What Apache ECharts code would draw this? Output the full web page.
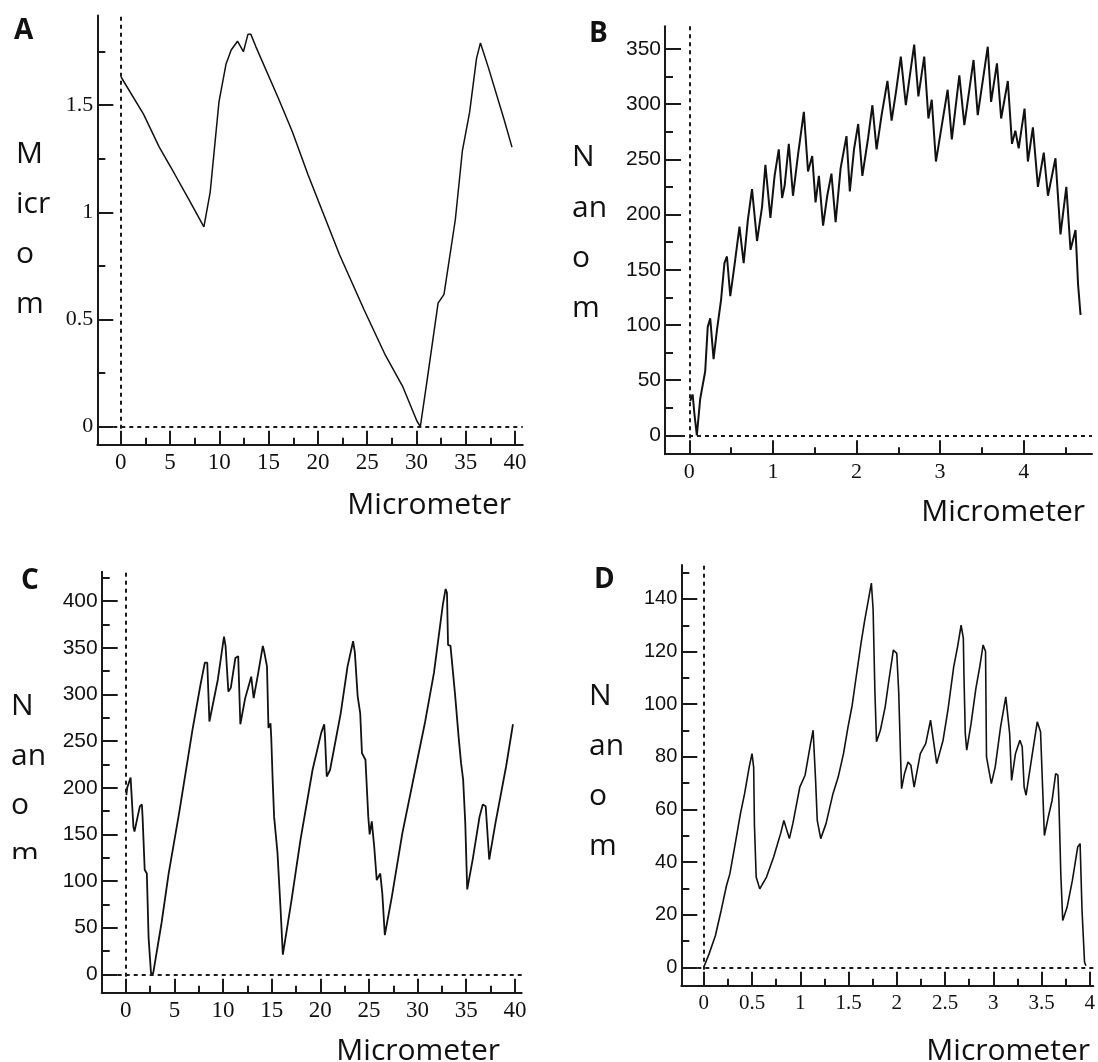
<!DOCTYPE html>
<html>
<head>
<meta charset="utf-8">
<script src="https://cdn.jsdelivr.net/npm/echarts@6/dist/echarts.min.js"></script>
<style>
html,body{margin:0;padding:0;background:#fff}
#main{width:1098px;height:1062px}
</style>
</head>
<body>
<div id="main"></div>
<script>
// panel A: micrometer profile
var aDist = [0.02,2.3,3.9,5.5,6.9,8.43,9.07,9.96,10.67,11.2,11.84,12.44,12.9,13.2,13.7,16.0,17.4,19.0,20.8,22.2,24.7,26.85,28.6,30.05,30.4,31.1,32.2,32.8,33.95,34.67,35.4,36.1,36.5,37.3,38.9,39.7]
var aHeight = [1.631,1.458,1.304,1.175,1.06,0.932,1.094,1.515,1.69,1.757,1.798,1.749,1.83,1.83,1.773,1.531,1.377,1.175,0.965,0.802,0.544,0.333,0.188,0.026,0,0.22,0.576,0.617,0.965,1.288,1.466,1.717,1.79,1.676,1.433,1.304]

// panel B
var bDist = [0.01,0.04,0.06,0.09,0.13,0.19,0.22,0.25,0.29,0.33,0.38,0.42,0.45,0.49,0.54,0.60,0.65,0.70,0.75,0.81,0.87,0.91,0.97,1.02,1.07,1.11,1.14,1.19,1.24,1.30,1.37,1.42,1.47,1.51,1.55,1.60,1.65,1.70,1.75,1.81,1.88,1.92,1.97,2.02,2.07,2.14,2.19,2.24,2.30,2.37,2.42,2.47,2.53,2.59,2.64,2.69,2.74,2.81,2.86,2.90,2.95,3.01,3.09,3.14,3.23,3.29,3.40,3.45,3.57,3.61,3.68,3.73,3.81,3.86,3.90,3.94,4.01,4.05,4.11,4.17,4.24,4.29,4.38,4.44,4.51,4.56,4.62,4.65,4.67,4.68]
var bHeight = [31,37,20,0,33,58,98,106,69,95,123,156,162,126,154,189,156,195,223,176,207,245,197,235,259,215,226,264,217,254,293,239,253,211,235,190,217,237,193,242,271,221,259,282,235,270,299,259,290,321,285,310,343,299,327,354,307,343,287,304,248,276,313,268,326,281,340,290,352,302,337,287,321,264,276,260,296,248,279,225,256,217,251,182,225,168,186,137,136,109]

// panel C
var cDist = [0.07,0.15,0.5,0.69,0.79,0.9,1.45,1.66,1.73,1.95,2.17,2.35,2.6,2.82,3.68,4.41,5.49,6.86,7.66,8.13,8.38,8.6,9.47,10.1,10.26,10.55,10.8,11.27,11.56,11.78,12.28,12.9,13.15,13.62,14.09,14.23,14.52,14.67,14.88,14.96,15.1,15.25,15.6,15.9,16.15,17.05,17.96,19.2,20.1,20.4,20.48,20.66,21.0,22.1,22.8,23.37,23.55,23.84,24.1,24.28,24.64,24.93,25.07,25.29,25.54,25.8,26.16,26.37,26.63,27.35,28.43,29.7,30.78,31.68,32.59,32.88,33.02,33.13,33.38,33.85,34.03,34.21,34.47,34.68,34.9,35.1,35.66,36.37,36.7,37.0,37.36,38.0,39.1,39.8]
var cHeight = [192,200,211,210,158,153,180,182,169,112,108,39,1,1,55,108,173,262,309,334,334,271,316,362,352,303,307,339,341,268,296,319,296,323,352,346,330,264,269,253,209,169,130,73,21,80,144,219,259,268,255,212,219,280,330,357,345,298,280,237,230,169,150,164,137,101,108,87,42,83,151,216,271,323,396,413,409,353,352,300,298,255,226,209,162,91,123,169,182,180,123,162,223,268]

// panel D
var dDist = [0,0.054,0.12,0.18,0.235,0.27,0.326,0.38,0.423,0.47,0.5,0.517,0.525,0.543,0.58,0.65,0.724,0.796,0.83,0.85,0.887,0.923,0.995,1.05,1.104,1.133,1.158,1.176,1.212,1.267,1.339,1.393,1.448,1.495,1.538,1.574,1.629,1.665,1.712,1.737,1.755,1.773,1.79,1.83,1.88,1.918,1.965,2.0,2.02,2.04,2.05,2.08,2.117,2.146,2.18,2.244,2.3,2.35,2.37,2.414,2.48,2.53,2.59,2.63,2.667,2.69,2.696,2.71,2.725,2.77,2.82,2.86,2.895,2.92,2.93,2.98,3.02,3.076,3.13,3.15,3.17,3.19,3.23,3.276,3.3,3.32,3.34,3.40,3.456,3.49,3.51,3.53,3.57,3.61,3.647,3.67,3.68,3.7,3.72,3.765,3.82,3.875,3.9,3.92,3.946,3.96]
var dHeight = [0,5,12,21.6,31,35.5,47,58.4,66,76,81.2,76,54,34.3,29.8,34.3,41.9,50.8,55.8,55.2,48.9,54.6,68.5,73,84.4,90.1,71.7,55.8,48.9,54.6,66,72.3,81.2,91.4,99.6,109,123,131.3,140.9,146,135.8,105.3,85.7,90.1,99,109,120.6,119.3,104.7,79.3,67.9,73.6,78,76.8,68.5,81.2,85,93.9,93.9,77.4,86.3,97.7,114.2,121.8,130,125,111.7,88.8,82.5,92.6,106,114.2,122.5,120,80,69.8,76.1,91.4,102.8,102.2,88.8,71,81.2,86.3,83.8,68.5,65.4,80,93.3,89.5,69.8,50.1,57.1,63.5,73.6,73,63.5,35.5,17.8,22.8,33,45.7,47,21.6,1.9,0.6]

// tick values
var ticks40 = [0,5,10,15,20,25,30,35,40]
var minor40 = [2.5,7.5,12.5,17.5,22.5,27.5,32.5,37.5]
var aYTicks = [0,0.5,1,1.5]
var aYMinor = [0.25,0.75,1.25,1.75]
var bXTicks = [0,1,2,3,4]
var bXMinor = [0.5,1.5,2.5,3.5,4.5]
var bYTicks = [0,50,100,150,200,250,300,350]
var bYMinor = [25,75,125,175,225,275,325]
var cYTicks = [0,50,100,150,200,250,300,350,400]
var cYMinor = [25,75,125,175,225,275,325,375,425]
var dXTicks = [0,0.5,1,1.5,2,2.5,3,3.5,4]
var dXMinor = [0.25,0.75,1.25,1.75,2.25,2.75,3.25,3.75]
var dYTicks = [0,20,40,60,80,100,120,140]
var dYMinor = [10,30,50,70,90,110,130,150]

var ink = '#1a1a1a'

function zip(xs, ys)
{
    var out = []
    for (var i = 0; i < xs.length; i++) out.push([xs[i], ys[i]])
    return out
}

function xAxes(grid, min, max, major, minor, font, size)
{
    return [
    {
        type:'value', gridIndex:grid, min:min, max:max, position:'bottom',
        axisLine:{show:true, onZero:false, lineStyle:{color:ink, width:2}},
        axisTick:{show:true, inside:true, length:14, customValues:major, lineStyle:{color:ink, width:2}},
        axisLabel:{show:true, customValues:major, margin:7, color:'#111', fontFamily:font, fontSize:size},
        splitLine:{show:false}
    },
    {
        type:'value', gridIndex:grid, min:min, max:max, position:'bottom',
        axisLine:{show:false, onZero:false},
        axisTick:{show:true, inside:true, length:7, customValues:minor, lineStyle:{color:ink, width:2}},
        axisLabel:{show:false},
        splitLine:{show:false}
    }]
}

function yAxes(grid, min, max, major, minor, font, size)
{
    return [
    {
        type:'value', gridIndex:grid, min:min, max:max, position:'left',
        axisLine:{show:true, onZero:false, lineStyle:{color:ink, width:2}},
        axisTick:{show:true, inside:true, length:16, customValues:major, lineStyle:{color:ink, width:2}},
        axisLabel:{show:true, customValues:major, margin:4, color:'#111', fontFamily:font, fontSize:size},
        splitLine:{show:false}
    },
    {
        type:'value', gridIndex:grid, min:min, max:max, position:'left',
        axisLine:{show:false, onZero:false},
        axisTick:{show:true, inside:true, length:8, customValues:minor, lineStyle:{color:ink, width:2}},
        axisLabel:{show:false},
        splitLine:{show:false}
    }]
}

function profile(idx, data, width)
{
    return {
        type:'line', xAxisIndex:idx*2, yAxisIndex:idx*2, data:data,
        symbol:'none', silent:true,
        lineStyle:{color:'#111', width:width},
        markLine:{
            silent:true, symbol:['none','none'], label:{show:false},
            lineStyle:{type:[4,4], color:ink, width:2},
            data:[{xAxis:0},{yAxis:0}]
        }
    }
}

var serif = 'Liberation Serif'
var sans = 'Liberation Sans'
var capFont = 'Open Sans'

function txt(x, y, s, align, bold)
{
    return {
        type:'text', x:x, y:y, z:99,
        style:{text:s, fill:'#111', font:(bold ? 'bold 28px ' : '30px ') + capFont, textAlign:align, textVerticalAlign:'middle', verticalAlign:'middle'}
    }
}

var graphics = [
    txt(14, 31, 'A', 'left', true),
    txt(589, 34, 'B', 'left', true),
    txt(21, 581, 'C', 'left', true),
    txt(594, 580, 'D', 'left', true),
    txt(16, 154, 'M', 'left'), txt(16, 204, 'icr', 'left'), txt(16, 254, 'o', 'left'), txt(16, 304, 'm', 'left'),
    txt(572, 157, 'N', 'left'), txt(572, 208, 'an', 'left'), txt(572, 258, 'o', 'left'), txt(572, 308, 'm', 'left'),
    txt(11, 706, 'N', 'left'), txt(11, 756, 'an', 'left'), txt(11, 805, 'o', 'left'), txt(11, 854, 'm', 'left'),
    txt(589, 696, 'N', 'left'), txt(589, 746, 'an', 'left'), txt(589, 796, 'o', 'left'), txt(589, 846, 'm', 'left'),
    txt(511, 505, 'Micrometer', 'right'),
    txt(1085, 512, 'Micrometer', 'right'),
    txt(500, 1051, 'Micrometer', 'right'),
    txt(1090, 1051, 'Micrometer', 'right'),
    // the C axis title is cut off in the original
    {type:'rect', z:100, shape:{x:0, y:859, width:55, height:30}, style:{fill:'#fff'}}
]

var ax = [].concat(
    xAxes(0, -2.39, 40.8, ticks40, minor40, serif, 23),
    xAxes(1, -0.291, 4.817, bXTicks, bXMinor, serif, 22),
    xAxes(2, -2.47, 40.7, ticks40, minor40, serif, 23),
    xAxes(3, -0.233, 4.037, dXTicks, dXMinor, serif, 21)
)
var ay = [].concat(
    yAxes(0, -0.085, 1.918, aYTicks, aYMinor, serif, 22),
    yAxes(1, -17.1, 370.5, bYTicks, bYMinor, sans, 21),
    yAxes(2, -19.7, 431.5, cYTicks, cYMinor, sans, 21),
    yAxes(3, -7.0, 152.9, dYTicks, dYMinor, sans, 20)
)

var myChart = echarts.init(document.getElementById('main'))
var option = {
    animation:false,
    backgroundColor:'#fff',
    grid:[
        {left:97.3, top:15.5, width:425.5, height:429.3},
        {left:665, top:26.3, width:427, height:427.9},
        {left:101.7, top:571.7, width:420, height:421},
        {left:681.3, top:565, width:416.7, height:420.7}
    ],
    xAxis:ax,
    yAxis:ay,
    graphic:graphics,
    series:[
        profile(0, zip(aDist, aHeight), 1.5),
        profile(1, zip(bDist, bHeight), 2),
        profile(2, zip(cDist, cHeight), 1.8),
        profile(3, zip(dDist, dHeight), 1.6)
    ]
}
myChart.setOption(option)
</script>
</body>
</html>
